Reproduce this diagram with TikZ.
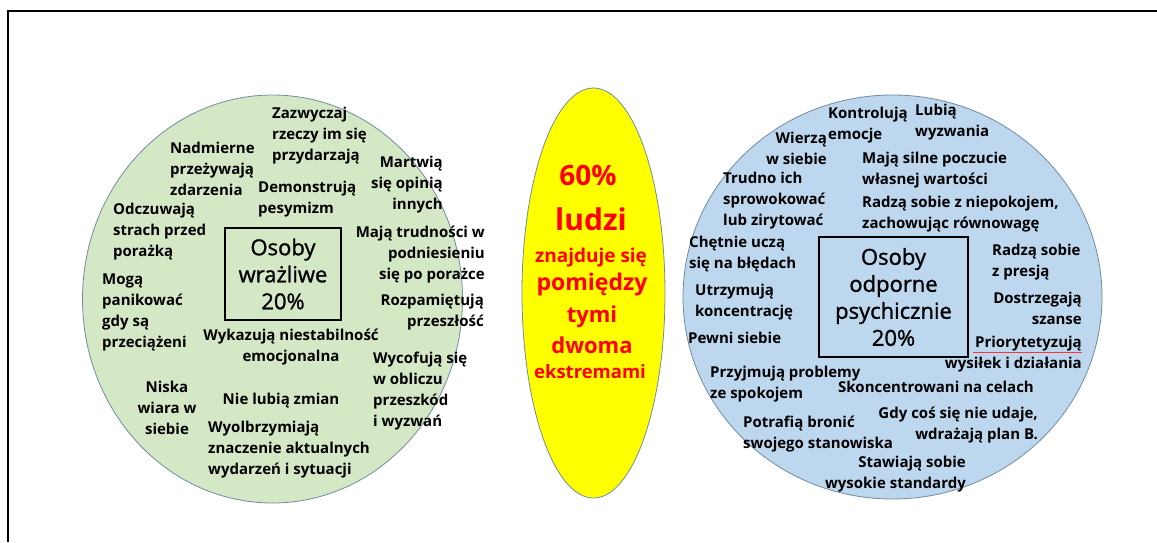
\documentclass[tikz,border=0pt]{standalone}
\usepackage{fontspec}
\setmainfont{Open Sans}
\newfontfamily\ramkafont[FakeBold=1.2]{Open Sans}
\definecolor{zielony}{RGB}{213,232,197}
\definecolor{niebieski}{RGB}{189,215,238}
\definecolor{obwod}{RGB}{112,140,160}
\definecolor{zolty}{RGB}{255,255,0}
\definecolor{czerwony}{RGB}{255,0,0}
\begin{document}
\begin{tikzpicture}[x=1pt,y=-1pt,
  cecha/.style={font=\bfseries\fontsize{15}{21}\selectfont,inner sep=0pt},
  cechaL/.style={cecha,align=left,anchor=north west},
  cechaR/.style={cecha,align=right,anchor=north east},
  cechaC/.style={cecha,align=center,anchor=north},
  ramka/.style={draw,line width=1.4pt,inner sep=0pt,align=center,
    font=\ramkafont\fontsize{22}{27}\selectfont},
  srodek/.style={text=czerwony,font=\bfseries,anchor=base}]
\useasboundingbox (0,0) rectangle (1157,542);
\draw [line width=1.2pt] (8,542) -- (8,11) -- (1157,11) ;
\filldraw [fill=zielony,draw=obwod,line width=0.8pt] (272.5,299) ellipse [x radius=190,y radius=204] ;
\filldraw [fill=zolty,draw=obwod,line width=0.8pt] (593.5,293) ellipse [x radius=71.5,y radius=205] ;
\filldraw [fill=niebieski,draw=obwod,line width=0.8pt] (892.5,297) ellipse [x radius=209.5,y radius=202] ;
\draw (283,274) node[ramka,minimum width=116pt,minimum height=92pt] (wrazliwe) {Osoby\\wrażliwe\\20\%} ;
\draw (272,107) node[cechaL] (zazw) {Zazwyczaj\\rzeczy im się\\przydarzają} ;
\draw (170,142) node[cechaL] (nadm) {Nadmierne\\przeżywają\\zdarzenia} ;
\draw (443,156) node[cechaR] (martw) {Martwią\\się opinią\\innych} ;
\draw (258,181) node[cechaL] (demo) {Demonstrują\\pesymizm} ;
\draw (113,203) node[cechaL] (odcz) {Odczuwają\\strach przed\\porażką} ;
\draw (485,226) node[cechaR] (trudn) {Mają trudności w\\podniesieniu\\się po porażce} ;
\draw (102,274) node[cechaL] (moga) {Mogą\\panikować\\gdy są\\przeciążeni} ;
\draw (484,294) node[cechaR] (rozp) {Rozpamiętują\\przeszłość} ;
\draw (291,329) node[cechaC] (wykaz) {Wykazują niestabilność\\emocjonalna} ;
\draw (373,352) node[cechaL] (wycof) {Wycofują się\\w obliczu\\przeszkód\\i wyzwań} ;
\draw (167,381) node[cechaC] (niska) {Niska\\wiara w\\siebie} ;
\draw (281,393) node[cechaC] (zmian) {Nie lubią zmian} ;
\draw (208,421) node[cechaL] (wyolb) {Wyolbrzymiają\\znaczenie aktualnych\\wydarzeń i sytuacji} ;
\draw (588,185) node[srodek,font=\bfseries\fontsize{28}{28}\selectfont] (proc) {60\%} ;
\draw (591,230) node[srodek,font=\bfseries\fontsize{30}{30}\selectfont] (ludzi) {ludzi} ;
\draw (591,262) node[srodek,font=\bfseries\fontsize{19}{19}\selectfont] (znajd) {znajduje się} ;
\draw (592,290) node[srodek,font=\bfseries\fontsize{23}{23}\selectfont] (pomi) {pomiędzy} ;
\draw (592,322) node[srodek,font=\bfseries\fontsize{22}{22}\selectfont] (tymi) {tymi} ;
\draw (592,353) node[srodek,font=\bfseries\fontsize{22}{22}\selectfont] (dwoma) {dwoma} ;
\draw (590,378) node[srodek,font=\bfseries\fontsize{18.5}{18.5}\selectfont] (ekstr) {ekstremami} ;
\draw (893.5,297) node[ramka,minimum width=149pt,minimum height=120pt] (odporne) {Osoby\\odporne\\psychicznie\\20\%} ;
\draw (828,107) node[cechaL] (kontr) {Kontrolują\\emocje} ;
\draw (915,104) node[cechaL] (lubia) {Lubią\\wyzwania} ;
\draw (827,132) node[cechaR] (wierza) {Wierzą\\w siebie} ;
\draw (862,152) node[cechaL] (silne) {Mają silne poczucie\\własnej wartości} ;
\draw (862,196) node[cechaL] (niepok) {Radzą sobie z niepokojem,\\zachowując równowagę} ;
\draw (723,172) node[cechaL] (trudno) {Trudno ich\\sprowokować\\lub zirytować} ;
\draw (689,236) node[cechaL] (chetnie) {Chętnie uczą\\się na błędach} ;
\draw (992,244) node[cechaL] (presja) {Radzą sobie\\z presją} ;
\draw (695,284) node[cechaL] (utrzym) {Utrzymują\\koncentrację} ;
\draw (688,332) node[cechaL] (pewni) {Pewni siebie} ;
\draw (1082,292) node[cechaR] (dostrz) {Dostrzegają\\szanse} ;
\draw (1082,336) node[cechaR] (prior) {Priorytetyzują\\wysiłek i działania} ;
\draw (710,366) node[cechaL] (przyjm) {Przyjmują problemy\\ze spokojem} ;
\draw (838,381) node[cechaL] (skonc) {Skoncentrowani na celach} ;
\draw (1038,407) node[cechaR] (gdy) {Gdy coś się nie udaje,\\wdrażają plan B.} ;
\draw (743,416) node[cechaL] (potraf) {Potrafią bronić\\swojego stanowiska} ;
\draw (966,456) node[cechaR] (stawia) {Stawiają sobie\\wysokie standardy} ;
\draw [czerwony!80,line width=0.8pt] ([yshift=-16pt]prior.north east) -- ([xshift=-109pt,yshift=-16pt]prior.north east) ;
\end{tikzpicture}
\end{document}
